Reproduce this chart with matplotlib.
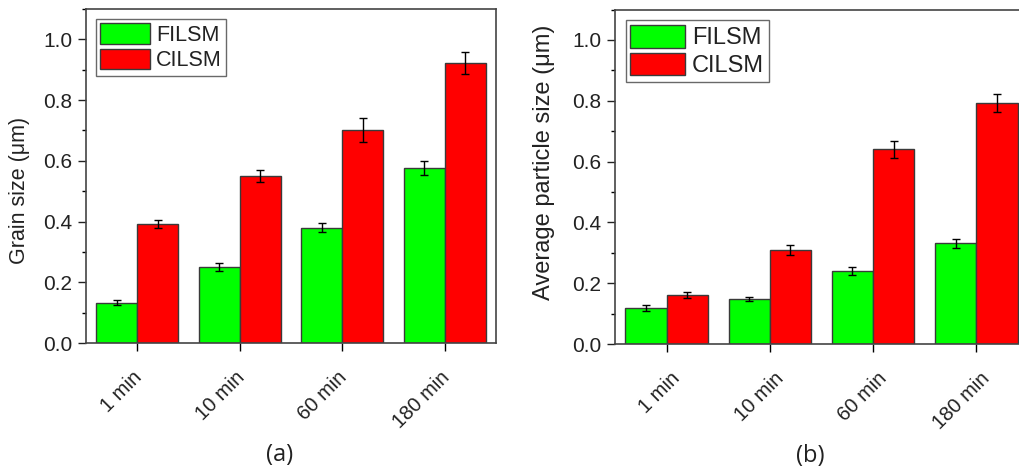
import matplotlib
matplotlib.use('Agg')
import matplotlib.pyplot as plt
import matplotlib.transforms as mtransforms
import numpy as np
from matplotlib.ticker import MultipleLocator

plt.rcParams['font.family'] = ['Liberation Sans', 'DejaVu Sans']

times = ['1 min', '10 min', '60 min', '180 min']
series = ['FILSM', 'CILSM']

# panel (a) grain size
grain_filsm = [0.133, 0.251, 0.380, 0.577]
grain_filsm_err = [0.008, 0.013, 0.015, 0.024]
grain_cilsm = [0.392, 0.550, 0.702, 0.923]
grain_cilsm_err = [0.013, 0.019, 0.040, 0.037]

# panel (b) average particle size
part_filsm = [0.117, 0.147, 0.241, 0.331]
part_filsm_err = [0.010, 0.007, 0.013, 0.014]
part_cilsm = [0.162, 0.308, 0.641, 0.793]
part_cilsm_err = [0.010, 0.016, 0.028, 0.030]

green = '#00ff00'
red = '#ff0000'
edge = '#3a3a3a'
txt = '#222222'


def draw_panel(ax, filsm, filsm_err, cilsm, cilsm_err, ylabel, ylabel_size,
               ylabel_xy, leg_size, lab_dx, tag):
    x = np.arange(len(times))
    w = 0.4
    err_kw = dict(ecolor='black', elinewidth=1.0, capsize=3, capthick=1.0)
    ax.bar(x - w / 2, filsm, w, yerr=filsm_err, color=green, edgecolor=edge,
           linewidth=1.0, label=series[0], error_kw=err_kw)
    ax.bar(x + w / 2, cilsm, w, yerr=cilsm_err, color=red, edgecolor=edge,
           linewidth=1.0, label=series[1], error_kw=err_kw)
    ax.set_xlim(-0.5, 3.5)
    ax.set_ylim(0, 1.1)
    ax.yaxis.set_minor_locator(MultipleLocator(0.1))
    ax.set_yticks(np.arange(0, 1.01, 0.2))
    ax.set_yticklabels([f'{v:.1f}' for v in np.arange(0, 1.01, 0.2)])
    ax.tick_params(axis='y', labelsize=15, colors=txt, length=6, width=1, pad=4)
    ax.tick_params(axis='y', which='minor', length=3, width=1)
    ax.tick_params(axis='x', length=6, width=1, pad=12)
    ax.set_xticks(x)
    ax.set_xticklabels(times, rotation=45, ha='right', va='top',
                       rotation_mode='anchor', fontsize=14.5, color=txt)
    # nudge the rotated labels sideways (after tick_params, which resets transforms)
    offset = mtransforms.ScaledTranslation(lab_dx / 100, 0, ax.figure.dpi_scale_trans)
    for tick in ax.xaxis.get_major_ticks():
        tick.label1.set_transform(tick.label1.get_transform() + offset)
    for s in ax.spines.values():
        s.set_color('#444444')
        s.set_linewidth(1.2)
    ax.set_ylabel(ylabel, fontsize=ylabel_size, color=txt)
    ax.yaxis.set_label_coords(*ylabel_xy)
    leg = ax.legend(loc='upper left', fontsize=leg_size, frameon=True, fancybox=False,
                    edgecolor='#444444', handlelength=2.3, handleheight=1.1,
                    handletextpad=0.3, borderpad=0.2, labelspacing=0.14,
                    borderaxespad=0.45)
    leg.get_frame().set_linewidth(1.0)
    for t in leg.get_texts():
        t.set_color(txt)
    ax.text(0.473, -0.336, tag, transform=ax.transAxes, ha='center', va='center',
            fontsize=17, color=txt, family=['Open Sans', 'DejaVu Sans'])


fig = plt.figure(figsize=(10.19, 4.76), dpi=100)
ax1 = fig.add_axes([0.0844, 0.2794, 0.4024, 0.7017])
ax2 = fig.add_axes([0.6035, 0.2773, 0.4053, 0.7027])

draw_panel(ax1, grain_filsm, grain_filsm_err, grain_cilsm, grain_cilsm_err,
           'Grain size (\u03bcm)', 15.5, (-0.137, 0.457), 15.5, -5, '(a)')
draw_panel(ax2, part_filsm, part_filsm_err, part_cilsm, part_cilsm_err,
           'Average particle size (\u03bcm)', 17, (-0.145, 0.543), 17, 4, '(b)')

fig.savefig('out.png', dpi=100)
